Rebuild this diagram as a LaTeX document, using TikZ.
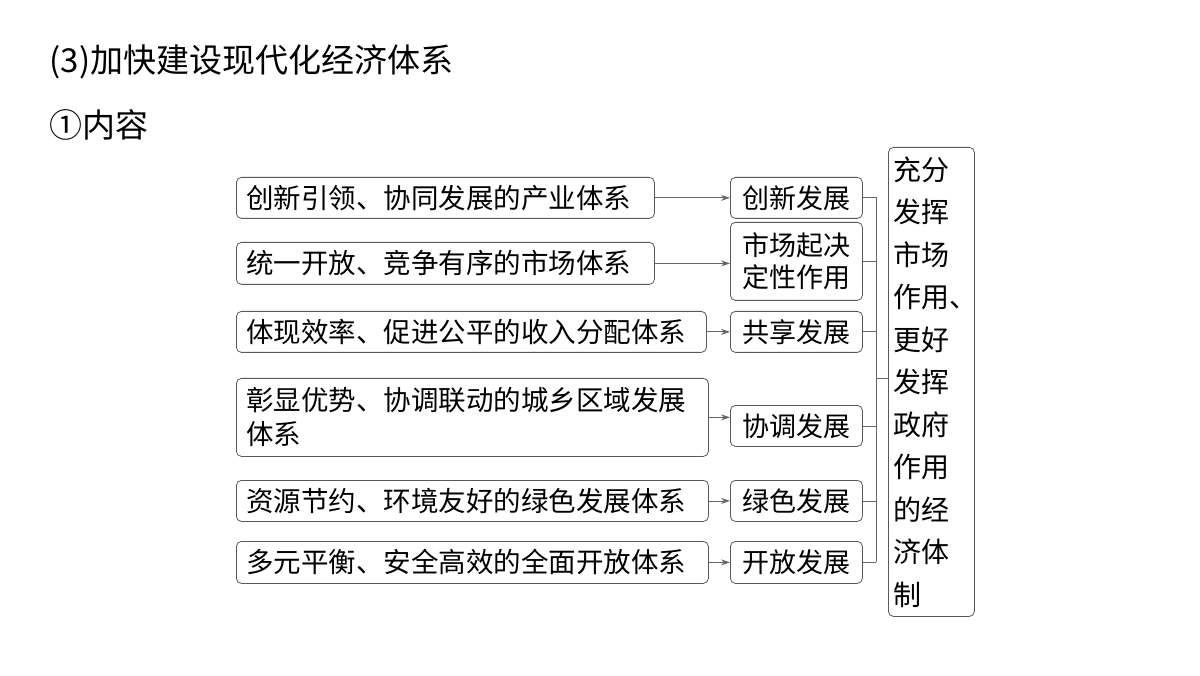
\documentclass[tikz,border=0pt]{standalone}
\usepackage{fontspec}
\setmainfont{Noto Sans CJK SC}
\usetikzlibrary{arrows.meta}
\tikzset{
  box/.style={draw=black!65, thick, rounded corners=5pt, anchor=north west, inner sep=0pt},
  lbox/.style={box, align=left, inner xsep=10pt, font=\fontsize{27.5}{38}\selectfont},
  mbox/.style={box, align=center, font=\fontsize{27}{38}\selectfont},
  arr/.style={draw=black!60, thick, -{Stealth[length=9pt,width=6pt]}},
  ln/.style={draw=black!60, thick}
}
\begin{document}
\begin{tikzpicture}[x=1pt, y=-1pt]
    \useasboundingbox (0,0) rectangle (1200,676);
    \node[anchor=west, font=\fontsize{33}{36}\selectfont] (title) at (46,62) {(3)加快建设现代化经济体系};
    \node[anchor=west, font=\fontsize{33}{36}\selectfont] (sub) at (46,125) {①内容};

    % left column
    \node[lbox, text width=398, minimum height=41] (L1) at (236,177) {创新引领、协同发展的产业体系};
    \node[lbox, text width=398, minimum height=42] (L2) at (236,242) {统一开放、竞争有序的市场体系};
    \node[lbox, text width=450, minimum height=41] (L3) at (236,311) {体现效率、促进公平的收入分配体系};
    \node[lbox, text width=452, minimum height=78] (L4) at (236,378) {彰显优势、协调联动的城乡区域发展\\[-4pt]体系};
    \node[lbox, text width=452, minimum height=41] (L5) at (236,480) {资源节约、环境友好的绿色发展体系};
    \node[lbox, text width=452, minimum height=42] (L6) at (236,541) {多元平衡、安全高效的全面开放体系};

    % middle column
    \node[mbox, minimum width=132, minimum height=41] (M1) at (730,177) {创新发展};
    \node[mbox, text width=132, minimum height=78] (M2) at (730,222) {市场起决\\[-6pt]定性作用};
    \node[mbox, minimum width=132, minimum height=41] (M3) at (730,311) {共享发展};
    \node[mbox, minimum width=132, minimum height=41] (M4) at (730,405) {协调发展};
    \node[mbox, minimum width=132, minimum height=41] (M5) at (730,480) {绿色发展};
    \node[mbox, minimum width=132, minimum height=42] (M6) at (730,541) {开放发展};

    % right box
    \node[box, text width=76, inner xsep=5pt, minimum height=469, align=left, font=\fontsize{28}{42.5}\selectfont] (R) at (888,147) {充分\\发挥\\市场\\作用、\\更好\\发挥\\政府\\作用\\的经\\济体\\制\\[-2pt]};

    % arrows
    \foreach \i in {1,...,6}
      \draw[arr] (L\i.east) -- (L\i.east -| M\i.west);

    % bracket
    \coordinate (bt) at (876,197);
    \coordinate (bb) at (876,562);
    \draw[ln] (bt) -- (bb);
    \foreach \i in {1,...,6}
      \draw[ln] (M\i.east) -- (M\i.east -| bt);
    \coordinate (bm) at (876,378);
    \draw[ln] (bm) -- (bm -| R.west);
\end{tikzpicture}
\end{document}
